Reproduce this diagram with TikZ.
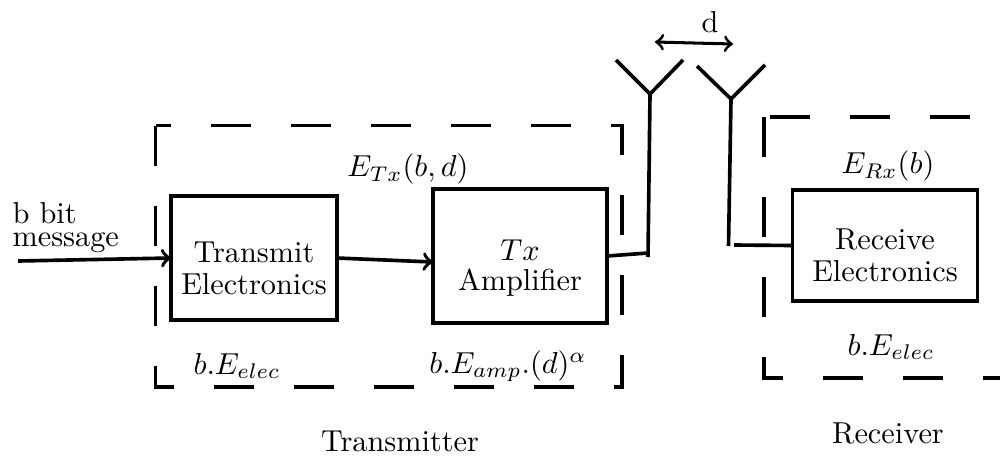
\documentclass[tikz,border=0pt]{standalone}
\newcommand{\dropline}[1]{\rule{0pt}{#1}}
\tikzset{
blockbox/.style={draw,line width=1.25pt,align=center,outer sep=0pt,font=\fontsize{10}{10.55}\selectfont},
zone/.style={line width=1.2pt,dash pattern=on 13.2pt off 13.2pt},
wire/.style={line width=1.2pt},
label/.style={inner sep=0pt,align=center}
}
\begin{document}
\begin{tikzpicture}[x=0.0116cm,y=-0.0116cm]
\useasboundingbox (0,0) rectangle (1000,455);
% boxes
\node[blockbox,minimum width=1.913cm,minimum height=1.43cm] (tx) at (254,258) {\dropline{13.4pt}Transmit\\Electronics};
\node[blockbox,minimum width=2.02cm,minimum height=1.556cm,font=\fontsize{10}{9.9}\selectfont] (amp) at (520,256) {\dropline{15pt}$Tx$\\Amplifier};
\node[blockbox,minimum width=2.145cm,minimum height=1.295cm] (rx) at (885,245.5) {\dropline{13.4pt}Receive\\Electronics};
% dashed zones
\coordinate (za) at (155.5,125.5);
\coordinate (zb) at (155.5,387);
\coordinate (zc) at (622,387);
\coordinate (zd) at (622,125.5);
\draw[zone] (za) -- (zb) -- (zc) -- (zd) -- cycle;
\coordinate (ya) at (764,117);
\coordinate (yb) at (764,378);
\coordinate (yc) at (1000,378);
\coordinate (yd) at (770,117);
\coordinate (ye) at (1000,117);
\draw[zone] (ya) -- (yb) -- (yc);
\draw[zone] (yd) -- (ye);
% signal path
\coordinate (msg) at (18,261);
\coordinate (ampin) at (433,262);
\coordinate (txfoot) at (648,253);
\coordinate (txend) at (648,257);
\coordinate (txtop) at (650,94);
\coordinate (txl) at (616,60);
\coordinate (txr) at (683,60);
\coordinate (rxfoot) at (728.5,246);
\coordinate (rxtop) at (731,99);
\coordinate (rxl) at (697,66);
\coordinate (rxr) at (765,65);
\coordinate (rxin) at (734,245);
\coordinate (da) at (655,42);
\coordinate (db) at (733,44);
\draw[wire,->] (msg) -- (tx.west);
\draw[wire,->] (tx.east) -- (ampin);
\draw[wire] (amp.east) -- (txfoot);
\draw[wire] (txend) -- (txtop);
\draw[wire] (txl) -- (txtop) -- (txr);
\draw[wire] (rxfoot) -- (rxtop);
\draw[wire] (rxl) -- (rxtop) -- (rxr);
\draw[wire] (rxin) -- (rx.west);
\draw[line width=1pt,<->] (da) -- (db);
% labels
\node[label] (dlabel) at (710,22) {d};
\node[label,align=left,anchor=west,font=\fontsize{10}{7.6}\selectfont] (msglabel) at (12,228) {b bit\\message};
\node[label] (etx) at (408,169) {$E_{Tx}(b,d)$};
\node[label] (erx) at (888,166) {$E_{Rx}(b)$};
\node[label] (elec1) at (237,366) {$b.E_{elec}$};
\node[label] (eamp) at (508,366) {$b.E_{amp}.(d)^{\alpha}$};
\node[label] (elec2) at (891,347) {$b.E_{elec}$};
\node[label] (txname) at (400,441) {Transmitter};
\node[label] (rxname) at (888,433) {Receiver};
\end{tikzpicture}
\end{document}
